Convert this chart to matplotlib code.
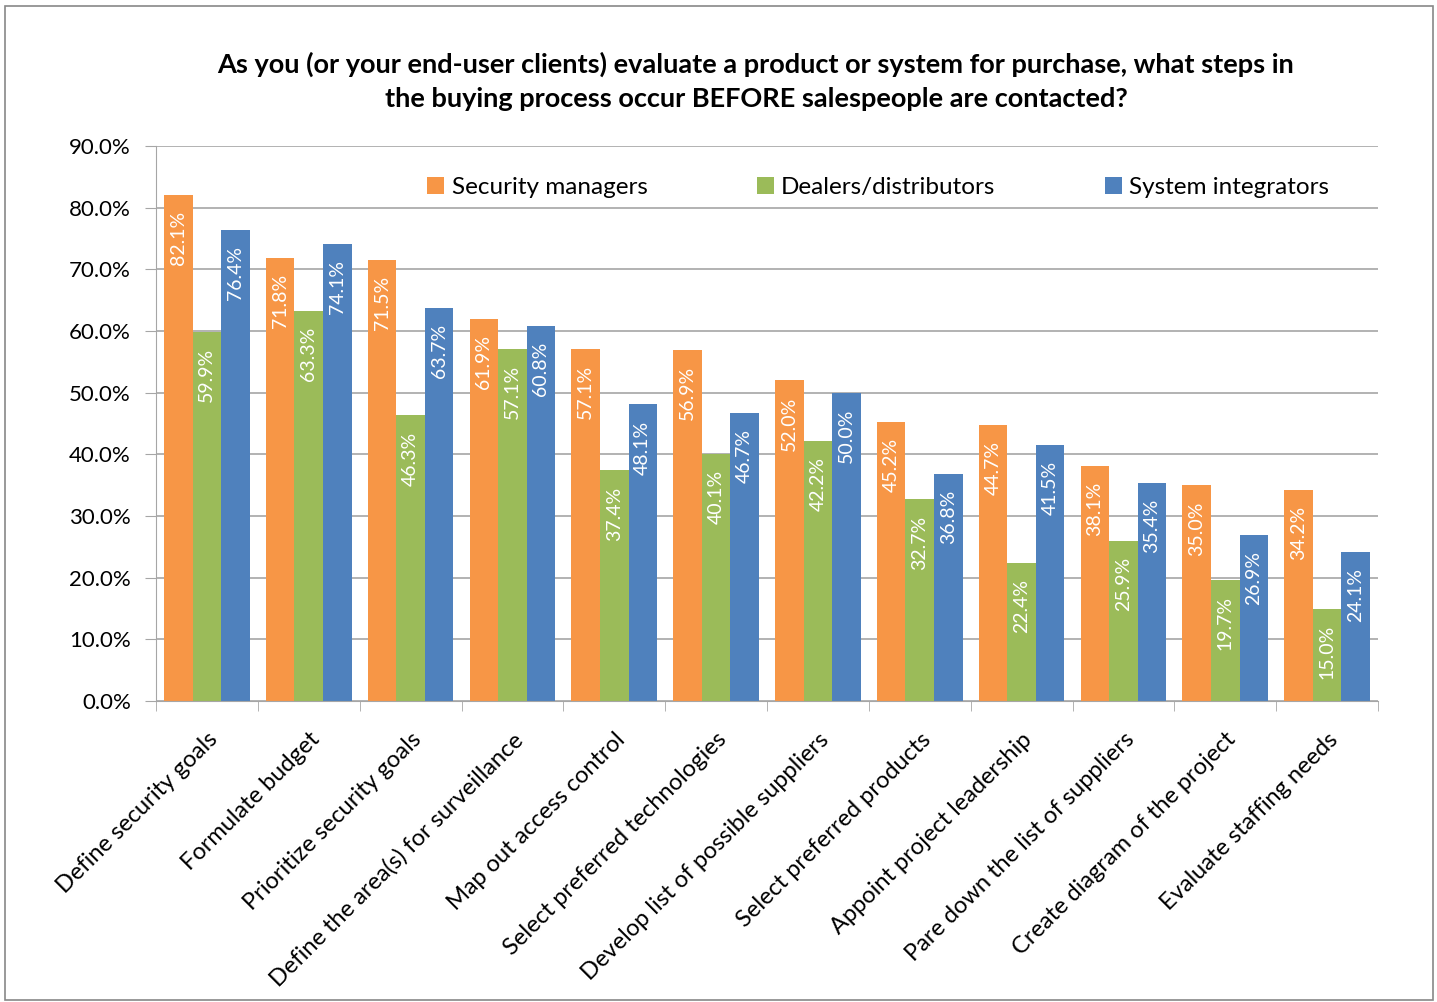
import matplotlib.pyplot as plt
import matplotlib as mpl
from matplotlib.patches import Rectangle
import numpy as np

mpl.rcParams['font.family'] = ['Lato', 'DejaVu Sans']

categories = ['Define security goals', 'Formulate budget', 'Prioritize security goals',
              'Define the area(s) for surveillance', 'Map out access control',
              'Select preferred technologies', 'Develop list of possible suppliers',
              'Select preferred products', 'Appoint project leadership',
              'Pare down the list of suppliers', 'Create diagram of the project',
              'Evaluate staffing needs']
security_managers = [82.1, 71.8, 71.5, 61.9, 57.1, 56.9, 52.0, 45.2, 44.7, 38.1, 35.0, 34.2]
dealers = [59.9, 63.3, 46.3, 57.1, 37.4, 40.1, 42.2, 32.7, 22.4, 25.9, 19.7, 15.0]
integrators = [76.4, 74.1, 63.7, 60.8, 48.1, 46.7, 50.0, 36.8, 41.5, 35.4, 26.9, 24.1]
series_names = ['Security managers', 'Dealers/distributors', 'System integrators']
colors = ['#F79646', '#9BBB59', '#4F81BD']

fig = plt.figure(figsize=(14.37, 10.02), dpi=100)
fig.patches.append(Rectangle((5 / 1437, 2 / 1002), 1428 / 1437, 994 / 1002,
                             transform=fig.transFigure, fill=False,
                             edgecolor='#888888', lw=1.2))
ax = fig.add_axes([156 / 1437, 1 - 701 / 1002, (1378 - 156) / 1437, (701 - 146) / 1002])

x = np.arange(len(categories))
w = 0.28
for i, (vals, name, c) in enumerate(zip([security_managers, dealers, integrators], series_names, colors)):
    pos = x + (i - 1) * w
    ax.bar(pos, vals, width=w, color=c, label=name, zorder=2)
    for p, v in zip(pos, vals):
        ax.text(p, v - 2.6, f'{v:.1f}%', rotation=90, ha='center', va='top',
                color='white', fontsize=14, zorder=3)

ax.set_xlim(-0.5, len(categories) - 0.5)
ax.set_ylim(0, 90)
ax.set_yticks(np.arange(0, 91, 10))
ax.set_yticklabels([f'{t:.1f}%' for t in np.arange(0, 91, 10)], fontsize=16)
ax.yaxis.grid(True, color='#A6A6A6', lw=1.2, zorder=0)
ax.set_axisbelow(True)
for s in ['top', 'right']:
    ax.spines[s].set_visible(False)
ax.spines['left'].set_color('#A6A6A6')
ax.spines['bottom'].set_color('#A6A6A6')
ax.tick_params(axis='y', length=8, color='#A6A6A6', pad=10)

ax.set_xticks(x)
ax.set_xticklabels(categories, rotation=45, ha='right', va='top',
                   rotation_mode='anchor', fontsize=17)
ax.tick_params(axis='x', length=0, pad=20)
ax.set_xticks(np.arange(-0.5, len(categories), 1), minor=True)
ax.tick_params(axis='x', which='minor', length=7, color='#A6A6A6')

ax.legend(loc='center', bbox_to_anchor=(0.591, 0.925), ncol=3, frameon=False,
          fontsize=17.5, handlelength=0.7, handleheight=0.7, handletextpad=0.3,
          columnspacing=4.5)

fig.text(756 / 1437, 1 - 81 / 1002,
         'As you (or your end-user clients) evaluate a product or system for purchase, what steps in\n'
         'the buying process occur BEFORE salespeople are contacted?',
         ha='center', va='center', fontsize=19.5, fontweight='bold', linespacing=1.5)

fig.savefig('out.png', dpi=100)
